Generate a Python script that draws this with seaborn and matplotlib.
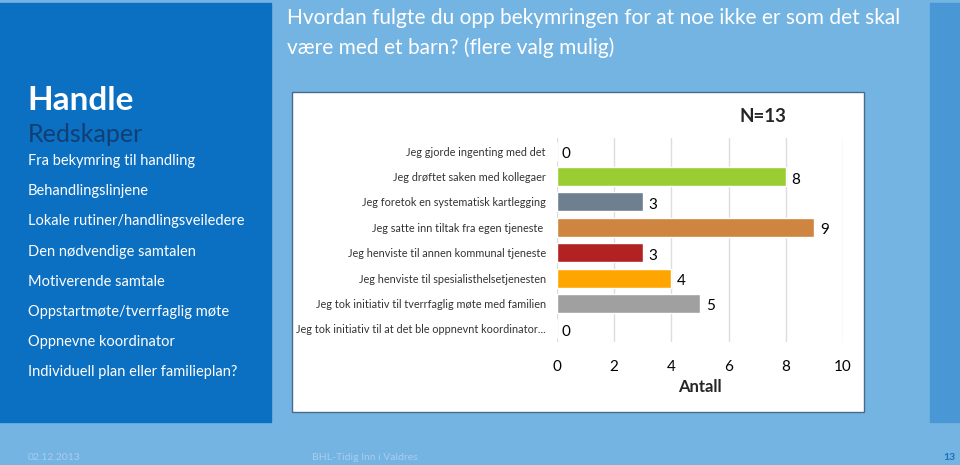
import matplotlib
matplotlib.use("Agg")
import matplotlib.pyplot as plt
import matplotlib.patches as mpatches
import seaborn as sns
import pandas as pd

categories = [
    "Jeg gjorde ingenting med det",
    "Jeg drøftet saken med kollegaer",
    "Jeg foretok en systematisk kartlegging",
    "Jeg satte inn tiltak fra egen tjeneste ",
    "Jeg henviste til annen kommunal tjeneste",
    "Jeg henviste til spesialisthelsetjenesten",
    "Jeg tok initiativ til tverrfaglig møte med familien",
    "Jeg tok initiativ til at det ble oppnevnt koordinator...",
]
values = [0, 8, 3, 9, 3, 4, 5, 0]
bar_colors = ["#FFFFFF", "#9ACD32", "#6E7F90", "#CD853F",
              "#B22222", "#FFA500", "#A0A0A0", "#FFFFFF"]
x_ticks = [0, 2, 4, 6, 8, 10]

menu_items = [
    "Fra bekymring til handling",
    "Behandlingslinjene",
    "Lokale rutiner/handlingsveiledere",
    "Den nødvendige samtalen",
    "Motiverende samtale",
    "Oppstartmøte/tverrfaglig møte",
    "Oppnevne koordinator",
    "Individuell plan eller familieplan?",
]

W, H = 960, 465


def fx(x):
    return x / W


def fy(y):
    return 1 - y / H


sns.set_style("white")
plt.rcParams["font.family"] = ["Lato", "DejaVu Sans"]

fig = plt.figure(figsize=(9.6, 4.65), dpi=100)
fig.patch.set_facecolor("#74B4E2")

# slide panels
fig.patches.append(mpatches.Rectangle((0, fy(422)), fx(271), fy(3) - fy(422),
                                      transform=fig.transFigure, color="#0B6FC2", zorder=-2))
fig.patches.append(mpatches.Rectangle((fx(930), fy(422)), fx(30), fy(3) - fy(422),
                                      transform=fig.transFigure, color="#4A97D6", zorder=-2))
fig.patches.append(mpatches.Rectangle((fx(292), fy(412)), fx(864) - fx(292), fy(92) - fy(412),
                                      transform=fig.transFigure, facecolor="white",
                                      edgecolor="#4A6A8A", linewidth=1, zorder=-2))

# left panel text
fig.text(fx(27), fy(100), "Handle", color="white", fontsize=24, fontweight="bold", va="center")
fig.text(fx(28), fy(134), "Redskaper", color="#123F73", fontsize=18, va="center")
for i, item in enumerate(menu_items):
    fig.text(fx(28), fy(161 + i * 30.2), item, color="white", fontsize=10.5, va="center")

# slide title
fig.text(fx(287), fy(18), "Hvordan fulgte du opp bekymringen for at noe ikke er som det skal",
         color="white", fontsize=15, va="center")
fig.text(fx(287), fy(48), "være med et barn? (flere valg mulig)",
         color="white", fontsize=15, va="center")

# footer
fig.text(fx(28), fy(457), "02.12.2013", color="#A9CDEE", fontsize=7.5, va="center")
fig.text(fx(312), fy(457), "BHL-Tidig Inn i Valdres", color="#A9CDEE", fontsize=7.5, va="center")
fig.text(fx(943), fy(457), "13", color="#1F6FB8", fontsize=7.5, fontweight="bold", va="center")

# chart
ax = fig.add_axes([fx(557), fy(341.5), fx(843) - fx(557), fy(138.5) - fy(341.5)])
df = pd.DataFrame({"Kategori": categories, "Antall": values})
sns.barplot(data=df, x="Antall", y="Kategori", hue="Kategori", palette=bar_colors,
            legend=False, orient="h", width=0.75, saturation=1, ax=ax, zorder=3)

ax.set_xlim(0, 10)
ax.set_ylim(len(categories) - 0.5, -0.5)
ax.set_xticks(x_ticks)
ax.set_xticklabels([str(t) for t in x_ticks], fontsize=11, color="black")
ax.tick_params(axis="x", length=0, pad=13)
ax.tick_params(axis="y", length=0, pad=8, labelsize=7.8, labelcolor="#333333")
ax.grid(axis="x", color="#DDDDDD", linewidth=1, zorder=0)
ax.grid(axis="y", visible=False)
for s in ax.spines.values():
    s.set_visible(False)
ax.set_ylabel("")
ax.set_xlabel("Antall", fontsize=12, fontweight="bold", labelpad=4)
ax.set_facecolor("white")

for i, v in enumerate(values):
    ax.text(v + 0.2 if v > 0 else 0.15, i + 0.12, str(v), fontsize=11, va="center", ha="left",
            color="black")

fig.text(fx(763), fy(117), "N=13", fontsize=13.5, fontweight="bold", ha="center", va="center")

fig.savefig("out.png", dpi=100, facecolor=fig.get_facecolor())
